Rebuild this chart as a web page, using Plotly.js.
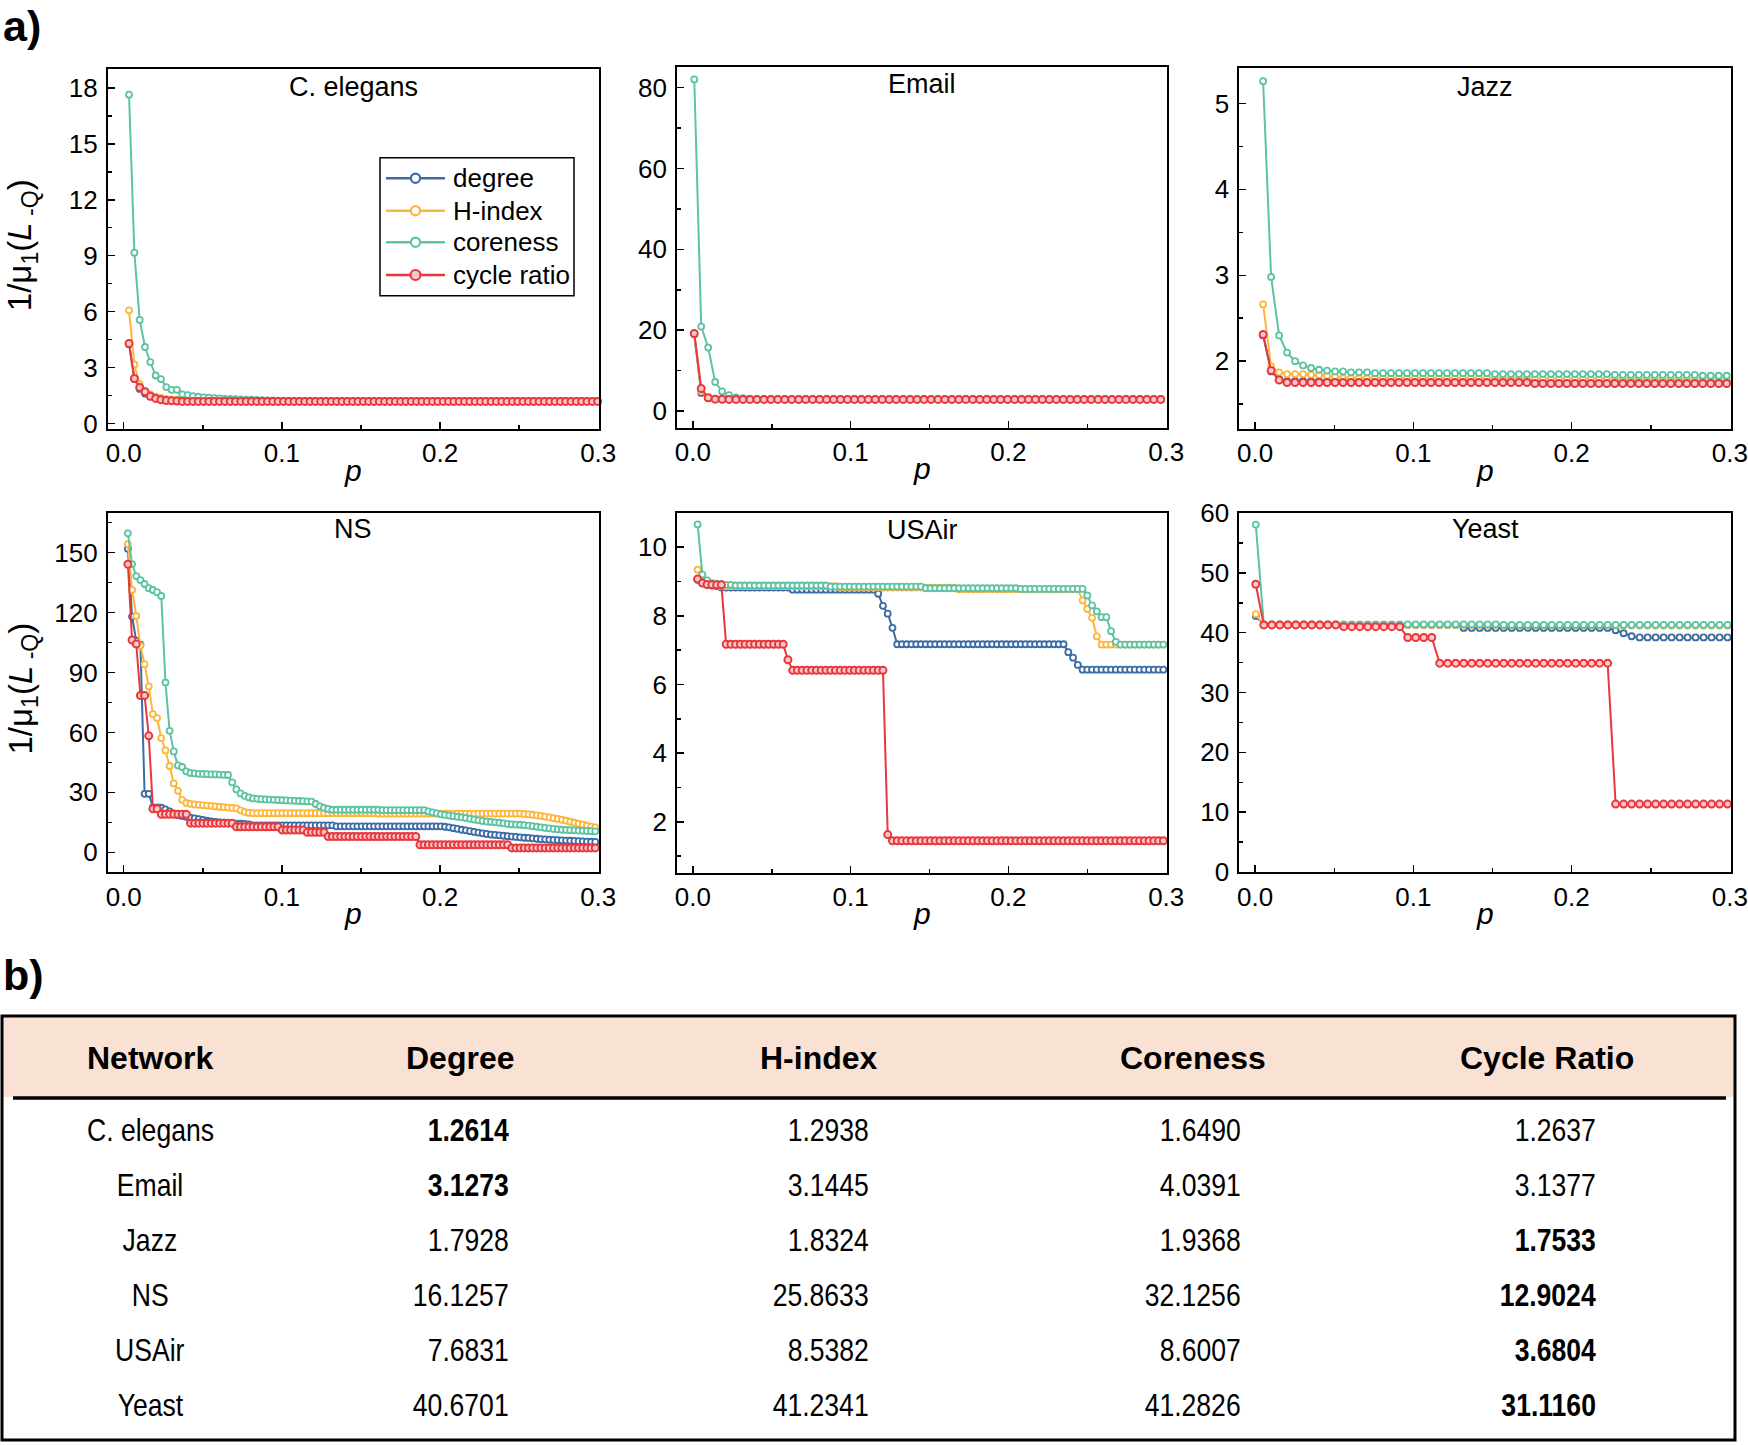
<!DOCTYPE html>
<html><head><meta charset="utf-8">
<script src="https://cdn.plot.ly/plotly-3.0.1.min.js"></script>
<style>html,body{margin:0;padding:0;background:#fff}#chart{width:1748px;height:1445px}</style>
</head><body><div id="chart"></div>
<script>
function rep(v, n) { return Array(n).fill(v); }

// ---------- series names / colours ----------
const seriesNames = ['degree', 'H-index', 'coreness', 'cycle ratio'];
const lineColors = ['#3C6CA6', '#FDB63C', '#5CC3A3', '#E8373D'];
const fillColors = ['#FFFFFF', '#FFFFFF', '#FFFFFF', '#F8CACA'];

// ---------- C. elegans (p = k/297) ----------
const celegansDegree = [4.25, 2.4, 1.85, 1.6, 1.45, 1.36, 1.3, 1.26, 1.24, 1.22, 1.21, 1.2, ...rep(1.19, 77)];
const celegansHindex = [6.07, 3.16, 2.1, 1.75, 1.56, 1.44, 1.37, 1.32, 1.29, 1.27, 1.25, 1.24, 1.23, 1.22, 1.21, ...rep(1.2, 74)];
const celegansCoreness = [17.64, 9.16, 5.55, 4.1, 3.29, 2.57, 2.38, 1.95, 1.8, 1.8, 1.56, 1.52, 1.46, 1.43, 1.4, 1.38, 1.36, 1.34, 1.32, 1.31, 1.3, 1.29, 1.28, 1.27, 1.26, 1.25, 1.24, 1.23, 1.22, 1.21, ...rep(1.2, 59)];
const celegansCycle = [4.29, 2.41, 1.93, 1.7, 1.46, 1.34, 1.27, 1.23, 1.21, 1.2, ...rep(1.18, 79)];

// ---------- Email (p = (1+5j)/1133) ----------
const emailDegree = [19.0, 4.5, 3.2, 2.95, 2.92, ...rep(2.9, 63)];
const emailHindex = [19.1, 5.0, 3.3, 3.0, 2.95, ...rep(2.92, 63)];
const emailCoreness = [82.0, 20.9, 15.7, 7.2, 4.9, 3.96, 3.4, 3.2, 3.1, 3.05, ...rep(3.0, 58)];
const emailCycle = [19.2, 5.6, 3.3, 2.95, 2.92, ...rep(2.9, 63)];

// ---------- Jazz (p = k/198) ----------
const jazzDegree = [2.3, 1.88, 1.79, 1.77, 1.77, ...rep(1.77, 30), ...rep(1.76, 24)];
const jazzHindex = [2.66, 1.94, 1.87, 1.85, 1.85, 1.85, 1.84, 1.84, 1.83, 1.82, ...rep(1.8, 25), ...rep(1.79, 24)];
const jazzCoreness = [5.26, 2.98, 2.3, 2.1, 2.0, 1.95, 1.92, 1.9, 1.89, 1.88, 1.88, 1.87, 1.87, 1.87, ...rep(1.86, 15), ...rep(1.85, 15), ...rep(1.84, 11), ...rep(1.83, 4)];
const jazzCycle = [2.31, 1.89, 1.78, 1.75, ...rep(1.75, 30), ...rep(1.74, 25)];

// ---------- NS (p = k/379) ----------
const nsDegree = [152, 118, 106, 104, 29.3, 29.3, 22.5, 22.5, 22.3, 21.5, 20.5, 19.5,
  18.5, 18.2, 17.8, 17.4, 17, 16.6, 16.2, 15.8, 15.5, 15.2,
  15, 14.8, 14.6, 14.5, 14.4, 14.3, 14.2, 14,
  ...rep(13.5, 20), ...rep(13, 26),
  12.8, 12.5, 12.1, 11.7, 11.3, 11, 10.6, 10.2, 9.9, 9.5, 9.2, 8.9, 8.7, 8.5, 8.3, 8.1, 7.9, 7.7, 7.5, 7.3, 7.2, 7.0, 6.8, 6.6, 6.5, 6.3, 6.2, 6.1, 6.0, 5.9, 5.8, 5.7, 5.6, 5.5, 5.4, 5.3, 5.2];
const nsHindex = [154.3, 131.3, 118.3, 103.5, 94.2, 83, 69.2, 67.2, 57.2, 51, 43.2, 34.5, 30.8, 26.3, 24.7, 24.3,
  24, 23.8, 23.6, 23.4, 23.2, 23, 22.8, 22.6, 22.4, 22.2, 22,
  21, 20.2, 19.8,
  ...rep(19.6, 30), ...rep(19.4, 35),
  19.2, 19.0, 18.8, 18.5, 18.2, 17.9, 17.5, 17.1, 16.7, 16.3, 15.8, 15.3, 14.8, 14.3, 13.8, 13.3, 12.9, 12.5];
const nsCoreness = [159.7, 144.3, 138.3, 136.3, 134.3, 132.2, 131.3, 130.2, 128.3, 85, 60.8, 50.5, 43.5, 42.7, 40.5,
  39.7, 39.5, 39.3, 39.2, 39.1, 39, 39, 38.9, 38.8, 38.7,
  35, 31.5, 29.5, 28.3, 27.5,
  27, 26.8, 26.6, 26.5, 26.4, 26.3, 26.2, 26.1, 26, 25.9, 25.8, 25.7, 25.6, 25.5, 25.4,
  24.2, 23, 22.2, 21.7,
  ...rep(21.3, 12), ...rep(21.1, 11),
  20.5, 20.0, 19.5, 19.0, 18.7, 18.4, 18.1, 17.8, 17.5, 17.2, 16.8, 16.4, 16.0, 15.7, 15.4, 15.2, 15.0, 14.8, 14.5, 14.2,
  14.0, 13.9, 13.8, 13.6, 13.4, 13.1, 12.8, 12.5, 12.2, 12.0, 11.7, 11.5, 11.3, 11.2, 11.1, 11.0, 10.9, 10.8, 10.7, 10.6, 10.5];
const nsCycle = [144.2, 106.3, 104.3, 78.5, 78.5, 58.3, 21.8, 21.8,
  ...rep(19, 7), ...rep(14.6, 11), ...rep(12.8, 11), ...rep(11.2, 6), ...rep(10, 5),
  ...rep(7.9, 22), ...rep(3.8, 22), ...rep(2.2, 21)];

// ---------- USAir (p = k/332) ----------
const usairDegree = [9.05, 8.95, 8.9, 8.88, 8.86, ...rep(8.82, 15), ...rep(8.76, 18),
  8.64, 8.29, 8.06, 7.65, ...rep(7.17, 36), 6.94, 6.78, 6.57, 6.43, ...rep(6.43, 17)];
const usairHindex = [9.34, 9.0, 8.92, 8.9, 8.88, ...rep(8.86, 25), ...rep(8.82, 25), ...rep(8.77, 26),
  8.45, 8.2, 7.94, 7.4, ...rep(7.16, 14)];
const usairCoreness = [10.66, 9.2, 9.03, 8.95, 8.93, 8.92, 8.9, 8.9, ...rep(8.88, 20), ...rep(8.85, 20), ...rep(8.8, 20), ...rep(8.78, 14),
  8.59, 8.3, 8.13, 7.96, 7.96, 7.55, 7.24, ...rep(7.16, 10)];
const usairCycle = [9.07, 8.95, 8.91, 8.9, 8.9, 8.9, ...rep(7.17, 13), 6.72, ...rep(6.41, 20), 1.63, ...rep(1.45, 58)];

// ---------- Yeast (p = (1+12j)/2375) ----------
const yeastDegree = [42.8, ...rep(41.3, 25), ...rep(40.8, 19), 40.4, 39.9, 39.4, ...rep(39.2, 12)];
const yeastHindex = [43.1, ...rep(41.3, 30), ...rep(41.2, 29)];
const yeastCoreness = [58.06, ...rep(41.4, 30), ...rep(41.3, 29)];
const yeastCycle = [48.1, ...rep(41.3, 10), ...rep(41.0, 8), ...rep(39.2, 4), ...rep(34.9, 22), ...rep(11.35, 15)];

// ---------- table b) ----------
const tableHeader = ['Network', 'Degree', 'H-index', 'Coreness', 'Cycle Ratio'];
const tableNetworks = ['C. elegans', 'Email', 'Jazz', 'NS', 'USAir', 'Yeast'];
const tableDegree = ['1.2614', '3.1273', '1.7928', '16.1257', '7.6831', '40.6701'];
const tableHindex = ['1.2938', '3.1445', '1.8324', '25.8633', '8.5382', '41.2341'];
const tableCoreness = ['1.6490', '4.0391', '1.9368', '32.1256', '8.6007', '41.2826'];
const tableCycle = ['1.2637', '3.1377', '1.7533', '12.9024', '3.6804', '31.1160'];

// ---------- figure geometry (pixels) ----------
const W = 1748, H = 1445;
const px = v => v / W;
const py = v => 1 - v / H;

const panels = [
  {title: 'C. elegans', nodes: 297, start: 1, stride: 1, data: [celegansDegree, celegansHindex, celegansCoreness, celegansCycle],
   yRange: [-0.3, 19], dtick: 3, minor: 1.5, box: [107.9, 599, 69.3, 429], titleY: 86.7},
  {title: 'Email', nodes: 1133, start: 1, stride: 5, data: [emailDegree, emailHindex, emailCoreness, emailCycle],
   yRange: [-4.1, 85], dtick: 20, minor: 10, box: [677.1, 1167, 67.3, 427.7], titleY: 84},
  {title: 'Jazz', nodes: 198, start: 1, stride: 1, data: [jazzDegree, jazzHindex, jazzCoreness, jazzCycle],
   yRange: [1.21, 5.41], dtick: 1, minor: 0.5, box: [1239.3, 1730.7, 68.3, 429], titleY: 86.7},
  {title: 'NS', nodes: 379, start: 1, stride: 1, data: [nsDegree, nsHindex, nsCoreness, nsCycle],
   yRange: [-10, 170], dtick: 30, minor: 15, box: [107.9, 599, 512.7, 872.3], titleY: 529.3},
  {title: 'USAir', nodes: 332, start: 1, stride: 1, data: [usairDegree, usairHindex, usairCoreness, usairCycle],
   yRange: [0.52, 11], dtick: 2, minor: 1, box: [677.1, 1167, 512.7, 872.7], titleY: 530},
  {title: 'Yeast', nodes: 2375, start: 1, stride: 12, data: [yeastDegree, yeastHindex, yeastCoreness, yeastCycle],
   yRange: [-0.05, 60.05], dtick: 10, minor: 5, box: [1239.3, 1730.7, 512.7, 872.3], titleY: 529}
];

const FONT = 'Liberation Sans, Arial, Helvetica, sans-serif';

const traces = [];
const layout = {
  width: W, height: H,
  margin: {l: 0, r: 0, t: 0, b: 0, pad: 0},
  paper_bgcolor: '#ffffff', plot_bgcolor: '#ffffff',
  font: {family: FONT, color: '#000'},
  showlegend: false,
  annotations: [], shapes: []
};

const axBase = {
  showline: true, linecolor: '#000', linewidth: 2, mirror: true,
  ticks: 'inside', ticklen: 7, tickwidth: 1.5, tickcolor: '#000',
  showgrid: false, zeroline: false,
  tickfont: {family: FONT, size: 26, color: '#000'}
};

panels.forEach((pn, i) => {
  const n = i + 1;
  const xk = n === 1 ? 'xaxis' : 'xaxis' + n;
  const yk = n === 1 ? 'yaxis' : 'yaxis' + n;
  const xr = n === 1 ? 'x' : 'x' + n;
  const yr = n === 1 ? 'y' : 'y' + n;
  const [l, r, t, b] = pn.box;
  layout[xk] = Object.assign({}, axBase, {
    domain: [px(l), px(r)], anchor: yr, range: [-0.01, 0.3005],
    tick0: 0, dtick: 0.1, tickformat: '.1f', ticklabelstandoff: 0,
    minor: {ticks: 'inside', ticklen: 4, tickwidth: 1.5, tickcolor: '#000', dtick: 0.05, showgrid: false}
  });
  layout[yk] = Object.assign({}, axBase, {
    domain: [py(b), py(t)], anchor: xr, range: pn.yRange, ticklabelstandoff: 3,
    tick0: 0, dtick: pn.dtick,
    minor: {ticks: 'inside', ticklen: 4, tickwidth: 1.5, tickcolor: '#000', dtick: pn.minor, showgrid: false}
  });
  pn.data.forEach((ys, s) => {
    const xs = ys.map((_, j) => (pn.start + pn.stride * j) / pn.nodes);
    const isCycle = s === 3;
    traces.push({
      type: 'scatter', mode: 'lines+markers', x: xs, y: ys, xaxis: xr, yaxis: yr,
      name: seriesNames[s], showlegend: false, cliponaxis: false,
      line: {color: lineColors[s], width: 2},
      marker: {symbol: 'circle', size: isCycle ? 7 : 6, color: fillColors[s],
               line: {color: lineColors[s], width: isCycle ? 2 : 1.8}}
    });
  });
  // panel title
  layout.annotations.push({xref: 'paper', yref: 'paper', x: px((l + r) / 2), y: py(pn.titleY),
    xanchor: 'center', yanchor: 'middle', showarrow: false, text: pn.title,
    font: {family: FONT, size: 27, color: '#000'}});
  // x-axis label
  layout.annotations.push({xref: 'paper', yref: 'paper', x: px((l + r) / 2), y: py(b + 41),
    xanchor: 'center', yanchor: 'middle', showarrow: false, text: '<i>p</i>',
    font: {family: FONT, size: 30, color: '#000'}});
  // y-axis label (left column only)
  if (i === 0 || i === 3) {
    layout.annotations.push({xref: 'paper', yref: 'paper', x: px(22), y: py((t + b) / 2 - 4),
      xanchor: 'center', yanchor: 'middle', showarrow: false, textangle: -90,
      text: '1/μ<sub>1</sub>(<i>L</i><sub> -Q</sub>)',
      font: {family: FONT, size: 33, color: '#000'}});
  }
});

// ---------- legend (inside C. elegans panel) ----------
const legendBox = {x0: 380, x1: 574, y0: 157.7, y1: 295.7};
const legendRowY = [178.3, 210.7, 242.3, 275];
layout.shapes.push({type: 'rect', xref: 'paper', yref: 'paper', x0: px(legendBox.x0), x1: px(legendBox.x1),
  y0: py(legendBox.y1), y1: py(legendBox.y0), fillcolor: '#ffffff', line: {color: '#000', width: 1.5}});
seriesNames.forEach((nm, s) => {
  const yy = py(legendRowY[s]);
  layout.shapes.push({type: 'line', xref: 'paper', yref: 'paper', x0: px(386), x1: px(445), y0: yy, y1: yy,
    line: {color: lineColors[s], width: 2.5}});
  const rr = s === 3 ? 5 : 4.6;
  layout.shapes.push({type: 'circle', xref: 'paper', yref: 'paper', xsizemode: 'pixel', ysizemode: 'pixel',
    xanchor: px(415.5), yanchor: yy, x0: -rr, x1: rr, y0: -rr, y1: rr,
    fillcolor: fillColors[s], line: {color: lineColors[s], width: 2.2}});
  layout.annotations.push({xref: 'paper', yref: 'paper', x: px(451), y: yy, xanchor: 'left', yanchor: 'middle',
    showarrow: false, text: nm, font: {family: FONT, size: 26, color: '#000'}});
});

// panel letters
layout.annotations.push({xref: 'paper', yref: 'paper', x: px(1), y: py(26), xanchor: 'left', yanchor: 'middle',
  showarrow: false, text: '<b>a)</b>', font: {family: FONT, size: 43, color: '#000'}});
layout.annotations.push({xref: 'paper', yref: 'paper', x: px(1), y: py(975), xanchor: 'left', yanchor: 'middle',
  showarrow: false, text: '<b>b)</b>', font: {family: FONT, size: 43, color: '#000'}});

// ---------- table ----------
layout.shapes.push({type: 'rect', xref: 'paper', yref: 'paper', x0: px(3), x1: px(1734), y0: py(1097), y1: py(1017),
  fillcolor: '#F9E2D4', line: {width: 0}, layer: 'below'});
layout.shapes.push({type: 'rect', xref: 'paper', yref: 'paper', x0: px(2), x1: px(1735), y0: py(1440), y1: py(1016),
  fillcolor: 'rgba(0,0,0,0)', line: {color: '#000', width: 3}});
layout.shapes.push({type: 'line', xref: 'paper', yref: 'paper', x0: px(13), x1: px(1726), y0: py(1098), y1: py(1098),
  line: {color: '#000', width: 3.5}});

const headerX = [150, 460, 819, 1193, 1547];
tableHeader.forEach((h, c) => {
  layout.annotations.push({xref: 'paper', yref: 'paper', x: px(headerX[c]), y: py(1058), xanchor: 'center', yanchor: 'middle',
    showarrow: false, text: '<b>' + h + '</b>', font: {family: FONT, size: 32, color: '#000'}});
});
const narrowIdx = [];   // annotations drawn in a condensed face
const rowY = [1130, 1185, 1240, 1295, 1350, 1405];
const colRight = [510.5, 870.5, 1242.5, 1597.5];
const valueCols = [tableDegree, tableHindex, tableCoreness, tableCycle];
tableNetworks.forEach((name, r) => {
  narrowIdx.push(layout.annotations.length);
  layout.annotations.push({xref: 'paper', yref: 'paper', x: px(150), y: py(rowY[r]), xanchor: 'center', yanchor: 'middle',
    showarrow: false, text: name, font: {family: FONT, size: 32, color: '#000'}});
  const vals = valueCols.map(col => parseFloat(col[r]));
  const best = Math.min(...vals);
  valueCols.forEach((col, c) => {
    const isBest = parseFloat(col[r]) === best;
    narrowIdx.push(layout.annotations.length);
    layout.annotations.push({xref: 'paper', yref: 'paper', x: px(colRight[c]), y: py(rowY[r]), xanchor: 'right', yanchor: 'middle',
      align: 'right', showarrow: false, text: isBest ? '<b>' + col[r] + '</b>' : col[r],
      font: {family: FONT, size: 32, color: '#000'}});
  });
});

Plotly.newPlot('chart', traces, layout, {staticPlot: true, displayModeBar: false}).then(gd => {
  // emulate the condensed (Arial Narrow-like) face of the table body
  const SQUEEZE = 0.83;
  gd.querySelectorAll('.annotation').forEach(g => {
    const idx = +g.getAttribute('data-index');
    if (narrowIdx.indexOf(idx) < 0) return;
    const txt = g.querySelector('text.annotation-text');
    if (!txt) return;
    const ann = layout.annotations[idx];
    const w = txt.getComputedTextLength();
    const nw = w * SQUEEZE;
    txt.setAttribute('textLength', nw.toFixed(2));
    txt.setAttribute('lengthAdjust', 'spacingAndGlyphs');
    const anchor = txt.getAttribute('text-anchor') || txt.style.textAnchor;
    if (ann.xanchor === 'right' && anchor !== 'end') {
      const x0 = parseFloat(txt.getAttribute('x')) || 0;
      const shift = anchor === 'start' ? (w - nw) : (w - nw) / 2;
      txt.setAttribute('x', (x0 + shift).toFixed(2));
    }
  });
});
</script></body></html>
